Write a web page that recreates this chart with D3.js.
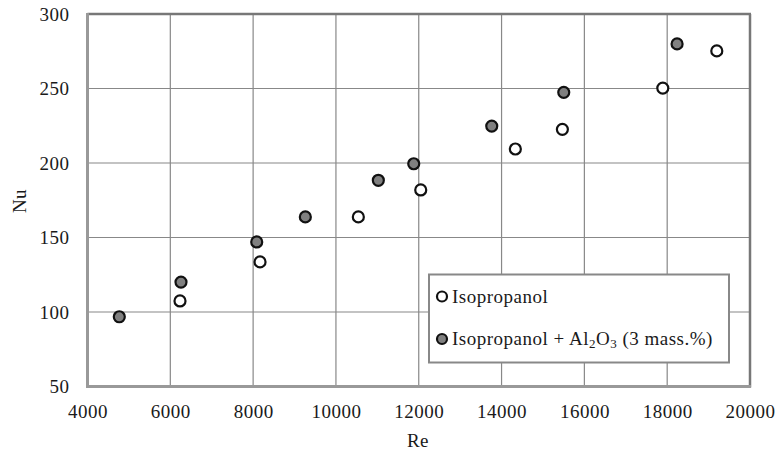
<!DOCTYPE html>
<html>
<head>
<meta charset="utf-8">
<script src="https://cdn.jsdelivr.net/npm/d3@7"></script>
<style>
body{margin:0;background:#fff}
text{font-family:"Liberation Serif","Times New Roman",serif;font-size:19px;letter-spacing:0.5px;fill:#1a1a1a}
</style>
</head>
<body>
<div id="chart"><svg width="777" height="456"></svg></div>
<script>
// Isopropanol (open markers)
var reIso = [6234, 8167, 10541, 12048, 14333, 15469, 17894, 19198]
var nuIso = [107.4, 133.6, 163.8, 181.9, 209.4, 222.6, 250.3, 275.2]
// Isopropanol + Al2O3 (filled markers)
var reNano = [4768, 6258, 8087, 9261, 11024, 11879, 13763, 15502, 18239]
var nuNano = [96.8, 120.1, 147, 163.8, 188.4, 199.5, 224.8, 247.4, 279.9]

var xTicks = [4000, 6000, 8000, 10000, 12000, 14000, 16000, 18000, 20000]
var yTicks = [50, 100, 150, 200, 250, 300]

var svg = d3.select("#chart svg")
var x = d3.scaleLinear().domain([4000,20000]).range([87.5,750])
var y = d3.scaleLinear().domain([50,300]).range([386.5,14])

// grid
svg.append("g").selectAll("line").data(xTicks.slice(1,-1)).enter().append("line")
    .attr("x1",d=>x(d)).attr("x2",d=>x(d)).attr("y1",y(300)).attr("y2",y(50))
    .attr("stroke","#888").attr("stroke-width",1.2)
svg.append("g").selectAll("line").data(yTicks.slice(1,-1)).enter().append("line")
    .attr("x1",x(4000)).attr("x2",x(20000)).attr("y1",d=>y(d)).attr("y2",d=>y(d))
    .attr("stroke","#888").attr("stroke-width",1.2)

// frame
svg.append("line").attr("x1",x(4000)).attr("x2",x(20000)+1).attr("y1",y(300)).attr("y2",y(300))
    .attr("stroke","#777").attr("stroke-width",2.5)
svg.append("line").attr("x1",x(20000)).attr("x2",x(20000)).attr("y1",y(300)).attr("y2",y(50)+1)
    .attr("stroke","#777").attr("stroke-width",2.5)
svg.append("line").attr("x1",x(4000)).attr("x2",x(4000)).attr("y1",y(300)-1).attr("y2",y(50)+1.5)
    .attr("stroke","#999").attr("stroke-width",3)
svg.append("line").attr("x1",x(4000)-1.5).attr("x2",x(20000)+1).attr("y1",y(50)).attr("y2",y(50))
    .attr("stroke","#999").attr("stroke-width",3)

// axes (labels only)
var xAxis = d3.axisBottom(x).tickValues(xTicks).tickSize(0).tickPadding(18).tickFormat(d3.format("d"))
var yAxis = d3.axisLeft(y).tickValues(yTicks).tickSize(0).tickPadding(18).tickFormat(d3.format("d"))
svg.append("g").attr("transform","translate(0,"+y(50)+")").call(xAxis)
    .call(g=>g.select(".domain").remove())
svg.append("g").attr("transform","translate("+x(4000)+",0)").call(yAxis)
    .call(g=>g.select(".domain").remove())
svg.selectAll(".tick text").attr("font-family",null).attr("font-size",null).attr("fill","#1a1a1a")

svg.append("text").attr("x",418).attr("y",447).attr("text-anchor","middle").text("Re")
svg.append("text").attr("transform","translate(26,201) rotate(-90)").attr("text-anchor","middle").text("Nu")

// points
svg.append("g").selectAll("circle").data(reIso).enter().append("circle")
    .attr("cx",d=>x(d)).attr("cy",(d,i)=>y(nuIso[i])).attr("r",5.5)
    .attr("fill","#fff").attr("stroke","#111").attr("stroke-width",2.2)
svg.append("g").selectAll("circle").data(reNano).enter().append("circle")
    .attr("cx",d=>x(d)).attr("cy",(d,i)=>y(nuNano[i])).attr("r",5.5)
    .attr("fill","#808080").attr("stroke","#111").attr("stroke-width",2.2)

// legend
var lg = svg.append("g")
lg.append("rect").attr("x",429).attr("y",274.5).attr("width",300).attr("height",88)
    .attr("fill","#fff").attr("stroke","#888").attr("stroke-width",2)
lg.append("circle").attr("cx",442).attr("cy",296.5).attr("r",5)
    .attr("fill","#fff").attr("stroke","#111").attr("stroke-width",2.2)
lg.append("circle").attr("cx",442).attr("cy",339).attr("r",5)
    .attr("fill","#808080").attr("stroke","#111").attr("stroke-width",2.2)
lg.append("text").attr("x",452).attr("y",302.5).text("Isopropanol")
var t2 = lg.append("text").attr("x",452).attr("y",345)
t2.append("tspan").text("Isopropanol + Al")
t2.append("tspan").attr("font-size","13px").attr("dy",3).text("2")
t2.append("tspan").attr("dy",-3).text("O")
t2.append("tspan").attr("font-size","13px").attr("dy",3).text("3")
t2.append("tspan").attr("dy",-3).text(" (3 mass.%)")
</script>
</body>
</html>
